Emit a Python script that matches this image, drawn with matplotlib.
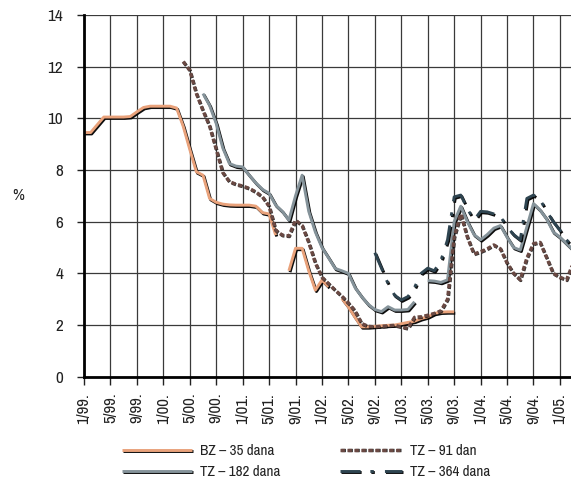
import numpy as np
import matplotlib
matplotlib.use("Agg")
import matplotlib.pyplot as plt
import matplotlib.patheffects as pe
from matplotlib.textpath import TextPath
from matplotlib.font_manager import FontProperties

FONT = ['Archivo Narrow', 'DejaVu Sans']
plt.rcParams['font.family'] = FONT
plt.rcParams['lines.scale_dashes'] = False

nan = np.nan
tick_labels = ["1/99.", "5/99.", "9/99.", "1/00.", "5/00.", "9/00.", "1/01.", "5/01.",
               "9/01.", "1/02.", "5/02.", "9/02.", "1/03.", "5/03.", "9/03.", "1/04.",
               "5/04.", "9/04.", "1/05."]

# monthly values, index 0 = 1/99
bz35 = [9.45, 9.45, 9.75, 10.05, 10.05, 10.05, 10.05, 10.07, 10.25, 10.42,
        10.47, 10.47, 10.47, 10.47, 10.4, 9.7, 8.8, 7.93, 7.8, 6.9,
        6.75, 6.68, 6.65, 6.64, 6.64, 6.64, 6.6, 6.35, 6.3, 5.48,
        nan, 4.1, 4.97, 4.97, 4.1, 3.35, 3.74, 3.48, nan, 3.03,
        2.7, 2.3, 1.93, 1.93, 1.95, 1.97, 1.99, 2.0, 2.05, 2.1,
        2.15, 2.25, 2.32, 2.45, 2.5, 2.51, 2.51, nan, nan, nan,
        nan, nan, nan, nan, nan, nan, nan, nan, nan, nan,
        nan, nan, nan, nan, nan]

tz91 = [nan] * 15 + [
        12.2, 11.86, 10.96, 10.3, 9.7,
        8.8, 7.9, 7.55, 7.45, 7.38, 7.29, 7.15, 6.96, 6.6, 5.67,
        5.48, 5.45, 6.06, 5.85, 5.2, 4.4, 3.85, 3.6, 3.35, 3.12,
        2.85, 2.55, 2.06, 1.95, 1.93, 1.95, 1.97, 1.99, 1.93, 1.87,
        2.3, 2.32, 2.38, 2.45, 2.55, 3.0, 5.4, 6.3, 5.4, 4.75,
        4.84, 4.95, 5.1, 4.95, 4.4, 4.0, 3.75, 4.6, 5.15, 5.2,
        4.6, 4.0, 3.85, 3.75, 4.4]

tz182 = [nan] * 18 + [
        10.96, 10.5,
        9.8, 8.85, 8.25, 8.15, 8.12, 7.8, 7.5, 7.25, 7.1, 6.64,
        6.4, 6.06, 7.0, 7.8, 6.4, 5.6, 5.0, 4.6, 4.19, 4.1,
        4.0, 3.45, 3.1, 2.8, 2.6, 2.52, 2.71, 2.58, 2.58, 2.6,
        2.9, nan, 3.72, 3.7, 3.65, 3.75, 6.0, 6.6, 6.0, 5.5,
        5.3, 5.5, 5.75, 5.85, 5.4, 5.0, 4.9, 5.8, 6.7, 6.45,
        6.1, 5.6, 5.4, 5.15, 4.9]

tz364 = [nan] * 44 + [
        4.8, 4.2, 3.6, 3.15, 2.97, 3.1,
        3.45, 4.0, 4.2, 4.1, 4.5, 5.3, 6.96, 7.03, 6.5, 6.06,
        6.4, 6.38, 6.3, 6.2, 5.8, 5.5, 5.3, 6.9, 7.03, 6.85,
        6.4, 6.0, 5.67, 5.3, 5.0]

months = np.arange(len(bz35))

W, H = 571, 483
PX = 72 / 100  # points per pixel
fig = plt.figure(figsize=(W / 100, H / 100), dpi=100)
prop = FontProperties(family=FONT)


def ink_fit(text, target_px, use='w', base=10.0):
    bb = TextPath((0, 0), text, size=base, prop=prop).get_extents()
    v = bb.width if use == 'w' else bb.height
    return base * target_px * PX / v


fs_x = ink_fit("1/99.", 29, 'w')
fs_y = ink_fit("14", 12, 'h')
fs_pct = ink_fit("%", 11.5, 'h')
fs_leg = ink_fit("BZ – 35 dana", 73, 'w')

ax = fig.add_axes([84 / W, (H - 376.7) / H, (W - 84) / W, (376.7 - 15) / H])


def shadow(off=(0.8, -1.0), alpha=0.95):
    return [pe.SimpleLineShadow(offset=off, shadow_color='black', alpha=alpha),
            pe.Normal()]


LW = 2.1
l_bz, = ax.plot(months, bz35, color='#E9A27B', lw=LW, solid_capstyle='butt',
                solid_joinstyle='round', path_effects=shadow(), zorder=3,
                label='BZ – 35 dana')
l_182, = ax.plot(months, tz182, color='#85939A', lw=LW, solid_capstyle='butt',
                 solid_joinstyle='round', path_effects=shadow(), zorder=4,
                 label='TZ – 182 dana')
l_364, = ax.plot(months, tz364, color='#2E4450', lw=LW, dash_capstyle='butt',
                 path_effects=shadow(), zorder=5, label='TZ – 364 dana')
l_364.set_dashes((14.5, 7, 2.5, 8))
l_91, = ax.plot(months, tz91, color='#6A4943', lw=2.4, dash_capstyle='butt',
                path_effects=shadow((0.4, -0.5), 0.8), zorder=6, label='TZ – 91 dan')
l_91.set_dashes((3.2, 1.8))

ax.set_xlim(0, (W - 84) / 6.61)
ax.set_ylim(0, 14)
ax.set_xticks(np.arange(0, 73, 4))
ax.set_xticklabels(tick_labels, rotation=90, fontsize=fs_x)
ax.set_yticks(np.arange(0, 15, 2))
ax.set_yticklabels([str(v) for v in range(0, 15, 2)], fontsize=fs_y)
ax.grid(True, color='#3a3a3a', lw=0.9, zorder=1)
ax.set_axisbelow(True)

for s in ['top', 'right']:
    ax.spines[s].set_visible(False)
for s in ['left', 'bottom']:
    ax.spines[s].set_linewidth(2.0)
    ax.spines[s].set_color('black')
    ax.spines[s].set_zorder(7)

ax.tick_params(axis='y', direction='out', length=7 * PX, width=1, pad=14 * PX, colors='#222222')
ax.tick_params(axis='x', direction='out', length=8 * PX, width=1, pad=8 * PX, colors='#222222')

fig.text(18 / W, (H - 196) / H, '%', fontsize=fs_pct, ha='center', va='center', color='#222222')

fpx = fs_leg / PX  # font size in pixels
leg_kw = dict(loc='upper left', frameon=False, fontsize=fs_leg, handletextpad=8 / fpx,
              labelspacing=0.48, borderpad=0, borderaxespad=0)
leg1 = fig.legend(handles=[l_bz, l_182], bbox_to_anchor=(122 / W, (H - 444) / H),
                  handlelength=70 / fpx, **leg_kw)
leg2 = fig.legend(handles=[l_91, l_364], bbox_to_anchor=(340 / W, (H - 444) / H),
                  handlelength=62 / fpx, **leg_kw)
for leg in (leg1, leg2):
    for t in leg.get_texts():
        t.set_color('#222222')

fig.savefig('out.png', dpi=100)
